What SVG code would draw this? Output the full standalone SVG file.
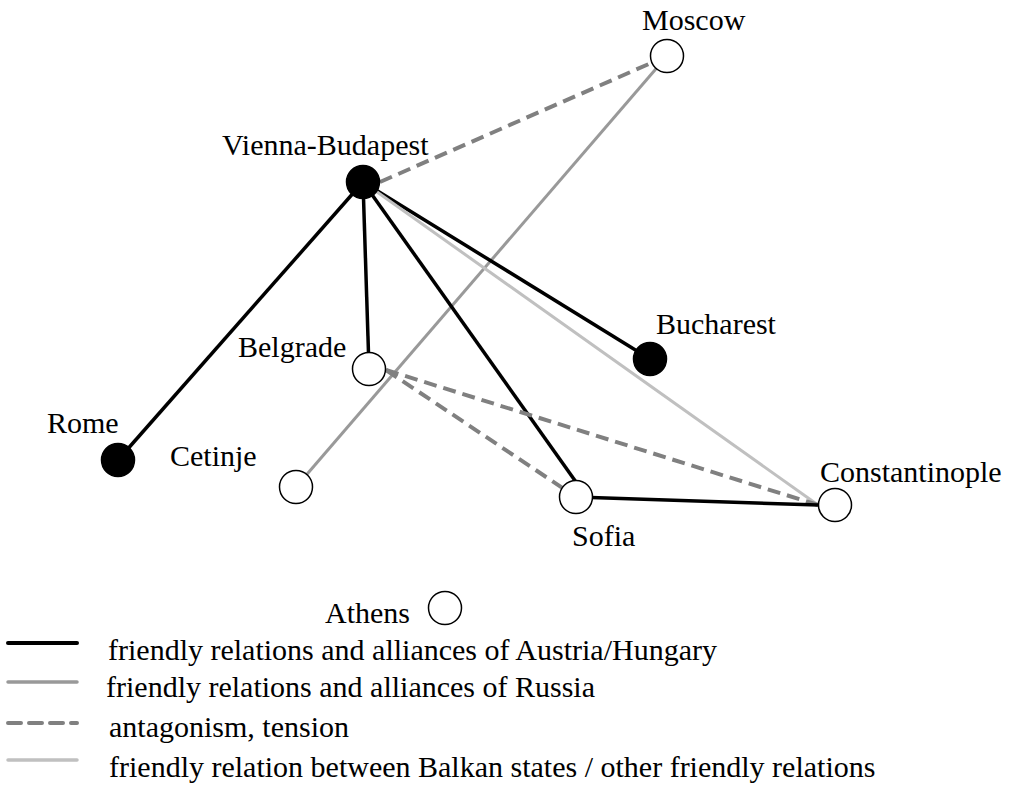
<svg xmlns="http://www.w3.org/2000/svg" width="1009" height="798" viewBox="0 0 1009 798">
<style>
text{font-family:"Liberation Serif","Times New Roman",serif;font-size:30px;fill:#000}
.aus{stroke:#000;stroke-width:3.5;fill:none}
.rus{stroke:#999;stroke-width:3;fill:none}
.ant{stroke:#808080;stroke-width:4;stroke-dasharray:13 7;fill:none}
.oth{stroke:#c0c0c0;stroke-width:3;fill:none}
.open{fill:#fff;stroke:#000;stroke-width:1.5}
.full{fill:#000;stroke:#000;stroke-width:1.5}
.leg{stroke-linecap:round}
</style>
<rect width="1009" height="798" fill="#fff"/>
<g id="connectors">
<line class="ant" x1="380" y1="182" x2="667" y2="56"/>
<line class="rus" x1="667" y1="56" x2="296" y2="487"/>
<line class="aus" x1="363" y1="182" x2="118" y2="460"/>
<line class="aus" x1="363" y1="182" x2="369" y2="369"/>
<line class="aus" x1="363" y1="182" x2="576" y2="482"/>
<line class="aus" x1="363" y1="182" x2="650" y2="359"/>
<line class="oth" x1="363" y1="182" x2="818" y2="505"/>
<line class="ant" x1="386" y1="370" x2="576" y2="497"/>
<line class="ant" x1="386" y1="370" x2="818" y2="505"/>
<line class="aus" x1="576" y1="497" x2="818" y2="505"/>
</g>
<g id="moscow"><circle class="open" cx="667" cy="56" r="16.5"/><text x="642" y="30">Moscow</text></g>
<g id="vienna-budapest"><circle class="full" cx="363" cy="182" r="16.5"/><text x="222" y="155">Vienna-Budapest</text></g>
<g id="bucharest"><circle class="full" cx="650" cy="359" r="16.5"/><text x="656" y="334">Bucharest</text></g>
<g id="belgrade"><circle class="open" cx="369" cy="369" r="16.5"/><text x="238" y="357">Belgrade</text></g>
<g id="rome"><circle class="full" cx="118" cy="460" r="16.5"/><text x="47" y="433">Rome</text></g>
<g id="cetinje"><circle class="open" cx="296" cy="487" r="16.5"/><text x="170" y="466">Cetinje</text></g>
<g id="sofia"><circle class="open" cx="576" cy="497" r="16.5"/><text x="572" y="546">Sofia</text></g>
<g id="constantinople"><circle class="open" cx="835" cy="505" r="16.5"/><text x="820" y="482">Constantinople</text></g>
<g id="athens"><circle class="open" cx="445" cy="608" r="16.5"/><text x="325" y="623">Athens</text></g>
<g id="legend">
<line class="aus leg" x1="8" y1="643" x2="77" y2="643" style="stroke-width:4"/>
<text x="108" y="660">friendly relations and alliances of Austria/Hungary</text>
<line class="rus leg" x1="8" y1="682" x2="77" y2="682" style="stroke-width:3.5"/>
<text x="106" y="697">friendly relations and alliances of Russia</text>
<line class="ant leg" x1="8" y1="723" x2="77" y2="723" style="stroke-dasharray:13 8"/>
<text x="109" y="737">antagonism, tension</text>
<line class="oth leg" x1="8" y1="760" x2="77" y2="760" style="stroke-width:3.5"/>
<text x="109" y="777">friendly relation between Balkan states / other friendly relations</text>
</g>
</svg>
